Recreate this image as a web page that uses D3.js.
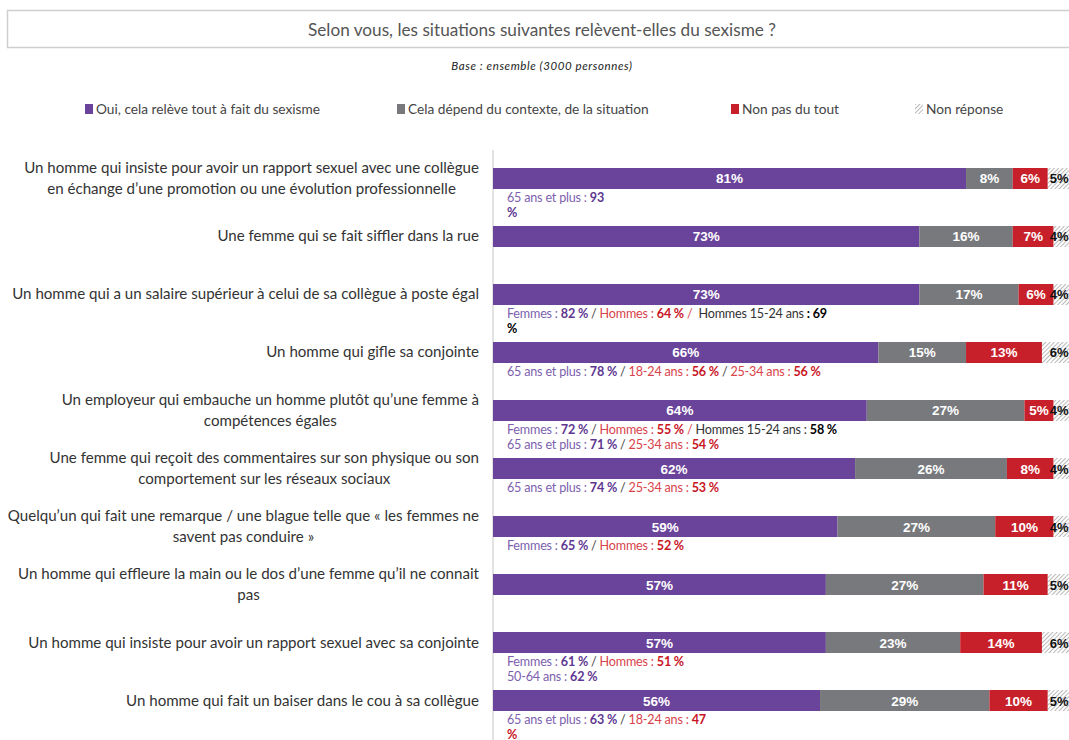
<!DOCTYPE html>
<html><head><meta charset="utf-8">
<script src="https://cdn.jsdelivr.net/npm/d3@7"></script>
<style>
body{margin:0;background:#fff;}
svg{display:block;font-family:Lato,"Open Sans",sans-serif;}
text{white-space:pre;}
</style></head>
<body><svg id="chart" width="1069" height="740"></svg>
<script>
const title = "Selon vous, les situations suivantes relèvent-elles du sexisme ?";
const subtitle = "Base : ensemble (3000 personnes)";
const seriesNames = ["Oui, cela relève tout à fait du sexisme","Cela dépend du contexte, de la situation","Non pas du tout","Non réponse"];
const categories = [
  "Un homme qui insiste pour avoir un rapport sexuel avec une collègue\nen échange d’une promotion ou une évolution professionnelle",
  "Une femme qui se fait siffler dans la rue",
  "Un homme qui a un salaire supérieur à celui de sa collègue à poste égal",
  "Un homme qui gifle sa conjointe",
  "Un employeur qui embauche un homme plutôt qu’une femme à\ncompétences égales",
  "Une femme qui reçoit des commentaires sur son physique ou son\ncomportement sur les réseaux sociaux",
  "Quelqu’un qui fait une remarque / une blague telle que « les femmes ne\nsavent pas conduire »",
  "Un homme qui effleure la main ou le dos d’une femme qu’il ne connait\npas",
  "Un homme qui insiste pour avoir un rapport sexuel avec sa conjointe",
  "Un homme qui fait un baiser dans le cou à sa collègue"
];
const oui      = [81,73,73,66,64,62,59,57,57,56];
const depend   = [8,16,17,15,27,26,27,27,23,29];
const nonPas   = [6,7,6,13,5,8,10,11,14,10];
const nonRep   = [5,4,4,6,4,4,4,5,6,5];
// annotations: per category, lines of [text, kind]
const annotations = [
  [[["65 ans et plus : ","pl"],["93","pv"]],[["%","pv"]]],
  null,
  [[["Femmes : ","pl"],["82 %","pv"],[" / ","sep"],["Hommes : ","rl"],["64 %","rv"],[" / ","rl"],[" Hommes 15-24 ans ","kl"],[": 69","kv"]],[["%","kv"]]],
  [[["65 ans et plus : ","pl"],["78 %","pv"],[" / ","sep"],["18-24 ans : ","rl"],["56 %","rv"],[" / ","sep"],["25-34 ans : ","rl"],["56 %","rv"]]],
  [[["Femmes : ","pl"],["72 %","pv"],[" / ","sep"],["Hommes : ","rl"],["55 %","rv"],[" / ","rl"],["Hommes 15-24 ans : ","kl"],["58 %","kv"]],
   [["65 ans et plus : ","pl"],["71 %","pv"],[" / ","sep"],["25-34 ans : ","rl"],["54 %","rv"]]],
  [[["65 ans et plus : ","pl"],["74 %","pv"],[" / ","sep"],["25-34 ans : ","rl"],["53 %","rv"]]],
  [[["Femmes : ","pl"],["65 %","pv"],[" / ","sep"],["Hommes : ","rl"],["52 %","rv"]]],
  null,
  [[["Femmes : ","pl"],["61 %","pv"],[" / ","sep"],["Hommes : ","rl"],["51 %","rv"]],[["50-64 ans : ","pl"],["62 %","pv"]]],
  [[["65 ans et plus : ","pl"],["63 %","pv"],[" / ","sep"],["18-24 ans : ","rl"],["47","rv"]],[["%","rv"]]]
];

const colors = ["#6a449b","#77797d","#c8202a","url(#hatch)"];
const annStyle = {
  pl:{fill:"#7d5fae",weight:400}, pv:{fill:"#5e3791",weight:700},
  rl:{fill:"#d8434b",weight:400}, rv:{fill:"#c8161f",weight:700},
  kl:{fill:"#333",weight:400}, kv:{fill:"#000",weight:700},
  sep:{fill:"#444",weight:400}
};

const W = 1069;
const svg = d3.select("#chart");
const defs = svg.append("defs");
const pat = defs.append("pattern").attr("id","hatch").attr("patternUnits","userSpaceOnUse")
  .attr("width",3).attr("height",3).attr("patternTransform","rotate(45)");
pat.append("rect").attr("width",3).attr("height",3).attr("fill","#fff");
pat.append("line").attr("x1",0).attr("y1",0).attr("x2",0).attr("y2",3).attr("stroke","#8a8a8a").attr("stroke-width",1.2);

// title box
svg.append("rect").attr("x",7.5).attr("y",10.5).attr("width",1080).attr("height",37)
  .attr("fill","#fff").attr("stroke","#cfcfcf").attr("stroke-width",1.5);
svg.append("text").attr("x",542).attr("y",35.5).attr("text-anchor","middle")
  .attr("font-size",17.2).attr("fill","#555").text(title);
svg.append("text").attr("x",542).attr("y",70).attr("text-anchor","middle")
  .attr("font-size",11.5).attr("letter-spacing",0.6).attr("font-style","italic").attr("fill","#222").text(subtitle);

// legend
const legendX = [85,397,731,915];
seriesNames.forEach((n,i)=>{
  const g = svg.append("g").attr("transform",`translate(${legendX[i]},104)`);
  g.append("rect").attr("width",8).attr("height",10).attr("fill",colors[i]);
  g.append("text").attr("x",11).attr("y",9.5).attr("font-size",13.7).attr("fill","#444").text(n);
});

const x = d3.scaleLinear().domain([0,100]).range([493,1077]);
const y = d3.scaleBand().domain(d3.range(categories.length)).range([168,711]).paddingInner(0.638).paddingOuter(0);

// axis line
svg.append("line").attr("x1",493).attr("x2",493).attr("y1",150).attr("y2",740)
  .attr("stroke","#e2e2e2").attr("stroke-width",2);

const series = [oui,depend,nonPas,nonRep];
const stacked = categories.map((c,i)=>{
  let acc=0;
  return series.map((s,k)=>{const d={i,k,x0:acc,x1:acc+s[i],v:s[i]};acc+=s[i];return d;});
});

const rows = svg.append("g").selectAll("g").data(stacked).join("g");
rows.selectAll("rect").data(d=>d).join("rect")
  .attr("x",d=>x(d.x0)).attr("width",d=>x(d.x1)-x(d.x0))
  .attr("y",d=>y(d.i)).attr("height",y.bandwidth())
  .attr("fill",d=>colors[d.k]);
rows.selectAll("text.val").data(d=>d).join("text").attr("class","val")
  .attr("x",d=>d.k===3 ? W-0.5 : (x(d.x0)+x(d.x1))/2)
  .attr("y",d=>y(d.i)+y.bandwidth()/2+5)
  .attr("text-anchor",d=>d.k===3?"end":"middle")
  .attr("font-family","'Liberation Sans',Arial,sans-serif")
  .attr("font-weight",700).attr("font-size",d=>d.k===3?13:13.5)
  .attr("fill",d=>d.k===3?"#111":"#fff").text(d=>d.v+"%");

// category labels
categories.forEach((c,i)=>{
  const lines = c.split("\n");
  const cy = y(i)+y.bandwidth()/2;
  const g = svg.append("g");
  const ts = lines.map((l,j)=>g.append("text").attr("font-size",15.1).attr("fill","#333")
     .attr("y",cy+5+(j-(lines.length-1)/2)*21).text(l));
  const widths = ts.map(t=>t.node().getComputedTextLength());
  const maxW = d3.max(widths);
  const center = 479 - maxW/2;
  ts.forEach(t=>t.attr("x",center).attr("text-anchor","middle"));
});

// annotations
annotations.forEach((a,i)=>{
  if(!a) return;
  const top = y(i)+y.bandwidth();
  a.forEach((line,j)=>{
    const t = svg.append("text").attr("x",507).attr("y",top+13+j*14.8)
      .attr("font-size",12.6).attr("letter-spacing",-0.2);
    line.forEach(([s,k])=>{
      t.append("tspan").attr("fill",annStyle[k].fill).attr("font-weight",annStyle[k].weight).text(s);
    });
  });
});
</script></body></html>
